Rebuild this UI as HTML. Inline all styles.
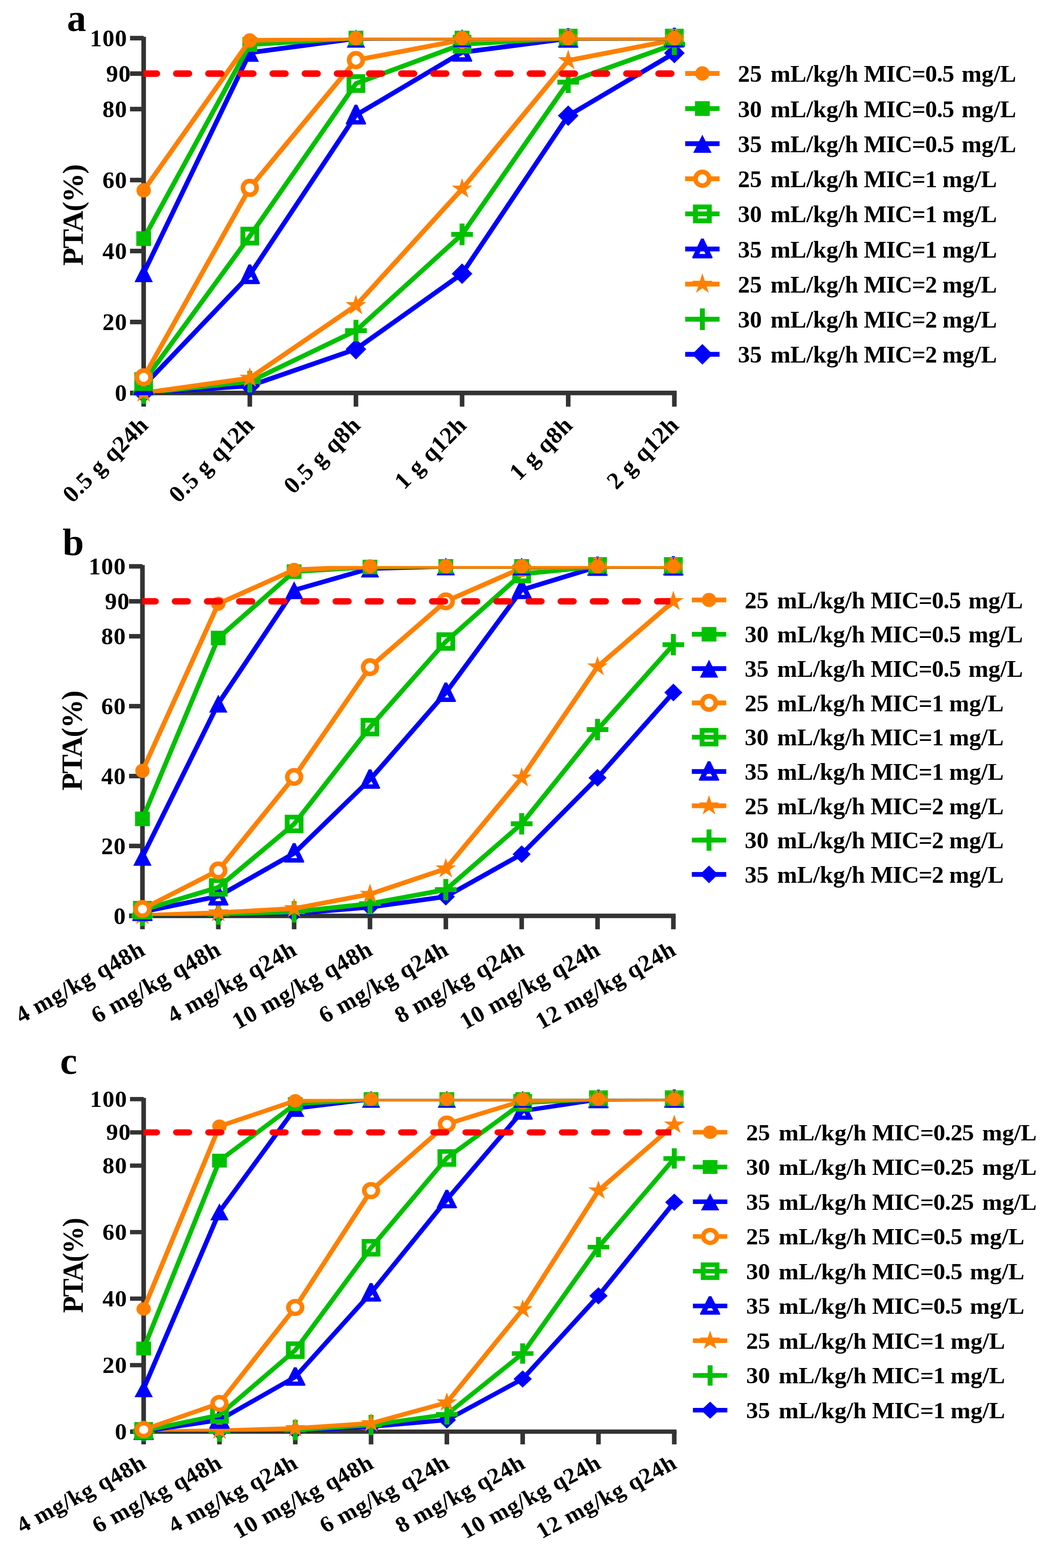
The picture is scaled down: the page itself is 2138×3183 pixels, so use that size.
<!DOCTYPE html>
<html lang="en">
<head>
<meta charset="utf-8">
<title>PTA of dosing regimens</title>
<style>
html,body{margin:0;padding:0;background:#fff;}
body{width:2138px;height:3183px;overflow:hidden;}
svg{display:block;}
svg text{font-family:'Liberation Serif', 'Times New Roman', serif;font-weight:bold;fill:#000;}
</style>
</head>
<body>

<svg width="2138" height="3183" viewBox="0 0 2138 3183">
<rect width="2138" height="3183" fill="#fff"/>
<g id="panel-a">
<text font-size="78" x="136" y="62.5">a</text>
<g transform="scale(1 1)">
<g fill="#333333">
<rect x="287.05" y="74.7" width="9.3" height="727.6"/>
<rect x="264" y="793.05" width="27.7" height="9.3"/>
<rect x="264" y="648.99" width="27.7" height="9.3"/>
<rect x="264" y="504.93" width="27.7" height="9.3"/>
<rect x="264" y="360.87" width="27.7" height="9.3"/>
<rect x="264" y="216.81" width="27.7" height="9.3"/>
<rect x="264" y="144.78" width="27.7" height="9.3"/>
<rect x="264" y="72.75" width="27.7" height="9.3"/>
<rect x="264" y="793.05" width="1109.85" height="9.3"/>
<rect x="287.05" y="797.7" width="9.3" height="27.8"/>
<rect x="502.55" y="797.7" width="9.3" height="27.8"/>
<rect x="718.05" y="797.7" width="9.3" height="27.8"/>
<rect x="933.55" y="797.7" width="9.3" height="27.8"/>
<rect x="1149.05" y="797.7" width="9.3" height="27.8"/>
<rect x="1364.55" y="797.7" width="9.3" height="27.8"/>
</g>
<g font-size="48.6" text-anchor="end" letter-spacing="1">
<text x="258.5" y="814.3">0</text>
<text x="258.5" y="670.24">20</text>
<text x="258.5" y="526.18">40</text>
<text x="258.5" y="382.12">60</text>
<text x="258.5" y="238.06">80</text>
<text x="266.1" y="166.03">90</text>
<text x="258.5" y="94">100</text>
</g>
<text font-size="59.5" letter-spacing="-1.5" text-anchor="middle" transform="translate(168 437) rotate(-90)">PTA(%)</text>
<g font-size="48.6" text-anchor="end" letter-spacing="1">
<text transform="translate(303.7 865.7) rotate(-45)">0.5 g q24h</text>
<text transform="translate(519.2 865.7) rotate(-45)">0.5 g q12h</text>
<text transform="translate(734.7 865.7) rotate(-45)">0.5 g q8h</text>
<text transform="translate(950.2 865.7) rotate(-45)">1 g q12h</text>
<text transform="translate(1165.7 865.7) rotate(-45)">1 g q8h</text>
<text transform="translate(1381.2 865.7) rotate(-45)">2 g q12h</text>
</g>
<clipPath id="clip0"><rect x="271.7" y="76.8" width="1117.5" height="720.9"/></clipPath>
<polyline clip-path="url(#clip0)" points="291.7,797.7 507.2,783.29 722.7,708.74 938.2,555.68 1153.7,234.79 1369.2,107.65" fill="none" stroke="#0000FF" stroke-width="9.6" stroke-linejoin="round"/>
<path transform="translate(291.7 797.7)" d="M0 -20.9L20.9 0L0 20.9L-20.9 0Z" fill="#0000FF"/>
<path transform="translate(507.2 783.29)" d="M0 -20.9L20.9 0L0 20.9L-20.9 0Z" fill="#0000FF"/>
<path transform="translate(722.7 708.74)" d="M0 -20.9L20.9 0L0 20.9L-20.9 0Z" fill="#0000FF"/>
<path transform="translate(938.2 555.68)" d="M0 -20.9L20.9 0L0 20.9L-20.9 0Z" fill="#0000FF"/>
<path transform="translate(1153.7 234.79)" d="M0 -20.9L20.9 0L0 20.9L-20.9 0Z" fill="#0000FF"/>
<path transform="translate(1369.2 107.65)" d="M0 -20.9L20.9 0L0 20.9L-20.9 0Z" fill="#0000FF"/>
<polyline clip-path="url(#clip0)" points="291.7,797.7 507.2,774.65 722.7,671.29 938.2,475.73 1153.7,166.72 1369.2,89.65" fill="none" stroke="#00C000" stroke-width="9.6" stroke-linejoin="round"/>
<path transform="translate(291.7 797.7)" d="M-5 -22H5V-5H22V5H5V22H-5V5H-22V-5H-5Z" fill="#00C000"/>
<path transform="translate(507.2 774.65)" d="M-5 -22H5V-5H22V5H5V22H-5V5H-22V-5H-5Z" fill="#00C000"/>
<path transform="translate(722.7 671.29)" d="M-5 -22H5V-5H22V5H5V22H-5V5H-22V-5H-5Z" fill="#00C000"/>
<path transform="translate(938.2 475.73)" d="M-5 -22H5V-5H22V5H5V22H-5V5H-22V-5H-5Z" fill="#00C000"/>
<path transform="translate(1153.7 166.72)" d="M-5 -22H5V-5H22V5H5V22H-5V5H-22V-5H-5Z" fill="#00C000"/>
<path transform="translate(1369.2 89.65)" d="M-5 -22H5V-5H22V5H5V22H-5V5H-22V-5H-5Z" fill="#00C000"/>
<polyline clip-path="url(#clip0)" points="291.7,797.7 507.2,767.45 722.7,620.15 938.2,383.53 1153.7,122.78 1369.2,81" fill="none" stroke="#FF8000" stroke-width="9.6" stroke-linejoin="round"/>
<path transform="translate(291.7 797.7)" d="M0 -22L4.94 -6.8L20.92 -6.8L7.99 2.6L12.93 17.8L0 8.4L-12.93 17.8L-7.99 2.6L-20.92 -6.8L-4.94 -6.8Z" fill="#FF8000"/>
<path transform="translate(507.2 767.45)" d="M0 -22L4.94 -6.8L20.92 -6.8L7.99 2.6L12.93 17.8L0 8.4L-12.93 17.8L-7.99 2.6L-20.92 -6.8L-4.94 -6.8Z" fill="#FF8000"/>
<path transform="translate(722.7 620.15)" d="M0 -22L4.94 -6.8L20.92 -6.8L7.99 2.6L12.93 17.8L0 8.4L-12.93 17.8L-7.99 2.6L-20.92 -6.8L-4.94 -6.8Z" fill="#FF8000"/>
<path transform="translate(938.2 383.53)" d="M0 -22L4.94 -6.8L20.92 -6.8L7.99 2.6L12.93 17.8L0 8.4L-12.93 17.8L-7.99 2.6L-20.92 -6.8L-4.94 -6.8Z" fill="#FF8000"/>
<path transform="translate(1153.7 122.78)" d="M0 -22L4.94 -6.8L20.92 -6.8L7.99 2.6L12.93 17.8L0 8.4L-12.93 17.8L-7.99 2.6L-20.92 -6.8L-4.94 -6.8Z" fill="#FF8000"/>
<path transform="translate(1369.2 81)" d="M0 -22L4.94 -6.8L20.92 -6.8L7.99 2.6L12.93 17.8L0 8.4L-12.93 17.8L-7.99 2.6L-20.92 -6.8L-4.94 -6.8Z" fill="#FF8000"/>
<polyline clip-path="url(#clip0)" points="291.7,783.29 507.2,557.84 722.7,233.71 938.2,106.21 1153.7,78.12 1369.2,77.4" fill="none" stroke="#0000FF" stroke-width="9.6" stroke-linejoin="round"/>
<path transform="translate(291.7 783.29)" fill-rule="evenodd" d="M-2.6 -21.1H2.6L20.8 17.2L19.6 19H-19.6L-20.8 17.2ZM0 -2.9L6.3 10H-6.3Z" fill="#0000FF"/>
<path transform="translate(507.2 557.84)" fill-rule="evenodd" d="M-2.6 -21.1H2.6L20.8 17.2L19.6 19H-19.6L-20.8 17.2ZM0 -2.9L6.3 10H-6.3Z" fill="#0000FF"/>
<path transform="translate(722.7 233.71)" fill-rule="evenodd" d="M-2.6 -21.1H2.6L20.8 17.2L19.6 19H-19.6L-20.8 17.2ZM0 -2.9L6.3 10H-6.3Z" fill="#0000FF"/>
<path transform="translate(938.2 106.21)" fill-rule="evenodd" d="M-2.6 -21.1H2.6L20.8 17.2L19.6 19H-19.6L-20.8 17.2ZM0 -2.9L6.3 10H-6.3Z" fill="#0000FF"/>
<path transform="translate(1153.7 78.12)" fill-rule="evenodd" d="M-2.6 -21.1H2.6L20.8 17.2L19.6 19H-19.6L-20.8 17.2ZM0 -2.9L6.3 10H-6.3Z" fill="#0000FF"/>
<path transform="translate(1369.2 77.4)" fill-rule="evenodd" d="M-2.6 -21.1H2.6L20.8 17.2L19.6 19H-19.6L-20.8 17.2ZM0 -2.9L6.3 10H-6.3Z" fill="#0000FF"/>
<polyline clip-path="url(#clip0)" points="291.7,774.65 507.2,479.33 722.7,169.6 938.2,89.65 1153.7,77.4 1369.2,77.4" fill="none" stroke="#00C000" stroke-width="9.6" stroke-linejoin="round"/>
<rect x="277.6" y="760.55" width="28.2" height="28.2" fill="none" stroke="#00C000" stroke-width="9.8"/>
<rect x="493.1" y="465.23" width="28.2" height="28.2" fill="none" stroke="#00C000" stroke-width="9.8"/>
<rect x="708.6" y="155.5" width="28.2" height="28.2" fill="none" stroke="#00C000" stroke-width="9.8"/>
<rect x="924.1" y="75.55" width="28.2" height="28.2" fill="none" stroke="#00C000" stroke-width="9.8"/>
<rect x="1139.6" y="63.3" width="28.2" height="28.2" fill="none" stroke="#00C000" stroke-width="9.8"/>
<rect x="1355.1" y="63.3" width="28.2" height="28.2" fill="none" stroke="#00C000" stroke-width="9.8"/>
<polyline clip-path="url(#clip0)" points="291.7,766.01 507.2,381.37 722.7,122.06 938.2,81 1153.7,77.4 1369.2,77.4" fill="none" stroke="#FF8000" stroke-width="9.6" stroke-linejoin="round"/>
<circle cx="291.7" cy="766.01" r="13.9" fill="#fff" stroke="#FF8000" stroke-width="9.3"/>
<circle cx="507.2" cy="381.37" r="13.9" fill="#fff" stroke="#FF8000" stroke-width="9.3"/>
<circle cx="722.7" cy="122.06" r="13.9" fill="#fff" stroke="#FF8000" stroke-width="9.3"/>
<circle cx="938.2" cy="81" r="13.9" fill="#fff" stroke="#FF8000" stroke-width="9.3"/>
<circle cx="1153.7" cy="77.4" r="13.9" fill="#fff" stroke="#FF8000" stroke-width="9.3"/>
<circle cx="1369.2" cy="77.4" r="13.9" fill="#fff" stroke="#FF8000" stroke-width="9.3"/>
<polyline clip-path="url(#clip0)" points="291.7,554.24 507.2,106.93 722.7,78.12 938.2,77.4 1153.7,77.4 1369.2,77.4" fill="none" stroke="#0000FF" stroke-width="9.6" stroke-linejoin="round"/>
<path transform="translate(291.7 554.24)" d="M0 -18.2L18.6 18.6H-18.6Z" fill="#0000FF"/>
<path transform="translate(507.2 106.93)" d="M0 -18.2L18.6 18.6H-18.6Z" fill="#0000FF"/>
<path transform="translate(722.7 78.12)" d="M0 -18.2L18.6 18.6H-18.6Z" fill="#0000FF"/>
<path transform="translate(938.2 77.4)" d="M0 -18.2L18.6 18.6H-18.6Z" fill="#0000FF"/>
<path transform="translate(1153.7 77.4)" d="M0 -18.2L18.6 18.6H-18.6Z" fill="#0000FF"/>
<path transform="translate(1369.2 77.4)" d="M0 -18.2L18.6 18.6H-18.6Z" fill="#0000FF"/>
<polyline clip-path="url(#clip0)" points="291.7,484.37 507.2,90.37 722.7,77.4 938.2,77.4 1153.7,77.4 1369.2,77.4" fill="none" stroke="#00C000" stroke-width="9.6" stroke-linejoin="round"/>
<rect x="276.7" y="469.37" width="30" height="30" fill="#00C000"/>
<rect x="492.2" y="75.37" width="30" height="30" fill="#00C000"/>
<rect x="707.7" y="62.4" width="30" height="30" fill="#00C000"/>
<rect x="923.2" y="62.4" width="30" height="30" fill="#00C000"/>
<rect x="1138.7" y="62.4" width="30" height="30" fill="#00C000"/>
<rect x="1354.2" y="62.4" width="30" height="30" fill="#00C000"/>
<polyline clip-path="url(#clip0)" points="291.7,386.41 507.2,82.08 722.7,77.4 938.2,77.4 1153.7,77.4 1369.2,77.4" fill="none" stroke="#FF8000" stroke-width="9.6" stroke-linejoin="round"/>
<circle cx="291.7" cy="386.41" r="14.6" fill="#FF8000"/>
<circle cx="507.2" cy="82.08" r="14.6" fill="#FF8000"/>
<circle cx="722.7" cy="77.4" r="14.6" fill="#FF8000"/>
<circle cx="938.2" cy="77.4" r="14.6" fill="#FF8000"/>
<circle cx="1153.7" cy="77.4" r="14.6" fill="#FF8000"/>
<circle cx="1369.2" cy="77.4" r="14.6" fill="#FF8000"/>
<clipPath id="rclip0"><rect x="291.3" y="139.43" width="1083.7" height="20"/></clipPath>
<g fill="#FF0000" clip-path="url(#rclip0)">
<rect x="290.7" y="142.83" width="27.72" height="13.2"/>
<circle cx="318.42" cy="149.43" r="6.6"/>
<rect x="351.3" y="142.83" width="39" height="13.2" rx="6.6"/>
<rect x="416.58" y="142.83" width="39" height="13.2" rx="6.6"/>
<rect x="481.86" y="142.83" width="39" height="13.2" rx="6.6"/>
<rect x="547.14" y="142.83" width="39" height="13.2" rx="6.6"/>
<rect x="612.42" y="142.83" width="39" height="13.2" rx="6.6"/>
<rect x="677.7" y="142.83" width="39" height="13.2" rx="6.6"/>
<rect x="742.98" y="142.83" width="39" height="13.2" rx="6.6"/>
<rect x="808.26" y="142.83" width="39" height="13.2" rx="6.6"/>
<rect x="873.54" y="142.83" width="39" height="13.2" rx="6.6"/>
<rect x="938.82" y="142.83" width="39" height="13.2" rx="6.6"/>
<rect x="1004.1" y="142.83" width="39" height="13.2" rx="6.6"/>
<rect x="1069.38" y="142.83" width="39" height="13.2" rx="6.6"/>
<rect x="1134.66" y="142.83" width="39" height="13.2" rx="6.6"/>
<rect x="1199.94" y="142.83" width="39" height="13.2" rx="6.6"/>
<rect x="1265.22" y="142.83" width="39" height="13.2" rx="6.6"/>
<rect x="1330.5" y="142.83" width="39" height="13.2" rx="6.6"/>
</g>
<g font-size="48.6">
<rect x="1391.2" y="144.2" width="69.8" height="9.8" fill="#FF8000"/>
<circle cx="1426.1" cy="149.1" r="14.6" fill="#FF8000"/>
<text y="166.3"><tspan x="1498.3">25</tspan> <tspan x="1564.4">mL/kg/h</tspan> <tspan x="1754.1" letter-spacing="-0.8">MIC=0.5</tspan> <tspan x="1952.6" letter-spacing="0">mg/L</tspan></text>
<rect x="1391.2" y="215.47" width="69.8" height="9.8" fill="#00C000"/>
<rect x="1411.1" y="205.37" width="30" height="30" fill="#00C000"/>
<text y="237.57"><tspan x="1498.3">30</tspan> <tspan x="1564.4">mL/kg/h</tspan> <tspan x="1754.1" letter-spacing="-0.8">MIC=0.5</tspan> <tspan x="1952.6" letter-spacing="0">mg/L</tspan></text>
<rect x="1391.2" y="286.74" width="69.8" height="9.8" fill="#0000FF"/>
<path transform="translate(1426.1 291.64)" d="M0 -18.2L18.6 18.6H-18.6Z" fill="#0000FF"/>
<text y="308.84"><tspan x="1498.3">35</tspan> <tspan x="1564.4">mL/kg/h</tspan> <tspan x="1754.1" letter-spacing="-0.8">MIC=0.5</tspan> <tspan x="1952.6" letter-spacing="0">mg/L</tspan></text>
<rect x="1391.2" y="358.01" width="69.8" height="9.8" fill="#FF8000"/>
<circle cx="1426.1" cy="362.91" r="13.9" fill="#fff" stroke="#FF8000" stroke-width="9.3"/>
<text y="380.11"><tspan x="1498.3">25</tspan> <tspan x="1564.4">mL/kg/h</tspan> <tspan x="1754.1" letter-spacing="-0.8">MIC=1</tspan> <tspan x="1913.5" letter-spacing="0">mg/L</tspan></text>
<rect x="1391.2" y="429.28" width="69.8" height="9.8" fill="#00C000"/>
<rect x="1412" y="420.08" width="28.2" height="28.2" fill="none" stroke="#00C000" stroke-width="9.8"/>
<text y="451.38"><tspan x="1498.3">30</tspan> <tspan x="1564.4">mL/kg/h</tspan> <tspan x="1754.1" letter-spacing="-0.8">MIC=1</tspan> <tspan x="1913.5" letter-spacing="0">mg/L</tspan></text>
<rect x="1391.2" y="500.55" width="69.8" height="9.8" fill="#0000FF"/>
<path transform="translate(1426.1 505.45)" fill-rule="evenodd" d="M-2.6 -21.1H2.6L20.8 17.2L19.6 19H-19.6L-20.8 17.2ZM0 -2.9L6.3 10H-6.3Z" fill="#0000FF"/>
<text y="522.65"><tspan x="1498.3">35</tspan> <tspan x="1564.4">mL/kg/h</tspan> <tspan x="1754.1" letter-spacing="-0.8">MIC=1</tspan> <tspan x="1913.5" letter-spacing="0">mg/L</tspan></text>
<rect x="1391.2" y="571.82" width="69.8" height="9.8" fill="#FF8000"/>
<path transform="translate(1426.1 576.72)" d="M0 -22L4.94 -6.8L20.92 -6.8L7.99 2.6L12.93 17.8L0 8.4L-12.93 17.8L-7.99 2.6L-20.92 -6.8L-4.94 -6.8Z" fill="#FF8000"/>
<text y="593.92"><tspan x="1498.3">25</tspan> <tspan x="1564.4">mL/kg/h</tspan> <tspan x="1754.1" letter-spacing="-0.8">MIC=2</tspan> <tspan x="1913.5" letter-spacing="0">mg/L</tspan></text>
<rect x="1391.2" y="643.09" width="69.8" height="9.8" fill="#00C000"/>
<path transform="translate(1426.1 647.99)" d="M-5 -22H5V-5H22V5H5V22H-5V5H-22V-5H-5Z" fill="#00C000"/>
<text y="665.19"><tspan x="1498.3">30</tspan> <tspan x="1564.4">mL/kg/h</tspan> <tspan x="1754.1" letter-spacing="-0.8">MIC=2</tspan> <tspan x="1913.5" letter-spacing="0">mg/L</tspan></text>
<rect x="1391.2" y="714.36" width="69.8" height="9.8" fill="#0000FF"/>
<path transform="translate(1426.1 719.26)" d="M0 -20.9L20.9 0L0 20.9L-20.9 0Z" fill="#0000FF"/>
<text y="736.46"><tspan x="1498.3">35</tspan> <tspan x="1564.4">mL/kg/h</tspan> <tspan x="1754.1" letter-spacing="-0.8">MIC=2</tspan> <tspan x="1913.5" letter-spacing="0">mg/L</tspan></text>
</g>
</g>
</g>
<g id="panel-b">
<text font-size="78" x="127" y="1126.5">b</text>
<g transform="scale(1 0.985)">
<g fill="#333333">
<rect x="284.55" y="1164.51" width="9.3" height="727.6"/>
<rect x="262" y="1882.86" width="27.2" height="9.3"/>
<rect x="262" y="1738.8" width="27.2" height="9.3"/>
<rect x="262" y="1594.74" width="27.2" height="9.3"/>
<rect x="262" y="1450.68" width="27.2" height="9.3"/>
<rect x="262" y="1306.62" width="27.2" height="9.3"/>
<rect x="262" y="1234.59" width="27.2" height="9.3"/>
<rect x="262" y="1162.56" width="27.2" height="9.3"/>
<rect x="262" y="1882.86" width="1109.85" height="9.3"/>
<rect x="284.55" y="1887.51" width="9.3" height="27.6"/>
<rect x="438.55" y="1887.51" width="9.3" height="27.6"/>
<rect x="592.55" y="1887.51" width="9.3" height="27.6"/>
<rect x="746.55" y="1887.51" width="9.3" height="27.6"/>
<rect x="900.55" y="1887.51" width="9.3" height="27.6"/>
<rect x="1054.55" y="1887.51" width="9.3" height="27.6"/>
<rect x="1208.55" y="1887.51" width="9.3" height="27.6"/>
<rect x="1362.55" y="1887.51" width="9.3" height="27.6"/>
</g>
<g font-size="48.6" text-anchor="end" letter-spacing="1">
<text x="256" y="1904.11">0</text>
<text x="256" y="1760.05">20</text>
<text x="256" y="1615.99">40</text>
<text x="256" y="1471.93">60</text>
<text x="256" y="1327.87">80</text>
<text x="263.6" y="1255.84">90</text>
<text x="256" y="1183.81">100</text>
</g>
<text font-size="59.5" letter-spacing="-1.5" text-anchor="middle" transform="translate(166 1526.9) rotate(-90)">PTA(%)</text>
<g font-size="48.6" text-anchor="end" letter-spacing="1">
<text transform="translate(297.9 1965.81) rotate(-29.5)">4 mg/kg q48h</text>
<text transform="translate(451.9 1965.81) rotate(-29.5)">6 mg/kg q48h</text>
<text transform="translate(605.9 1965.81) rotate(-29.5)">4 mg/kg q24h</text>
<text transform="translate(759.9 1965.81) rotate(-29.5)">10 mg/kg q48h</text>
<text transform="translate(913.9 1965.81) rotate(-29.5)">6 mg/kg q24h</text>
<text transform="translate(1067.9 1965.81) rotate(-29.5)">8 mg/kg q24h</text>
<text transform="translate(1221.9 1965.81) rotate(-29.5)">10 mg/kg q24h</text>
<text transform="translate(1375.9 1965.81) rotate(-29.5)">12 mg/kg q24h</text>
</g>
<clipPath id="clip1"><rect x="269.2" y="1166.61" width="1118" height="720.9"/></clipPath>
<polyline clip-path="url(#clip1)" points="289.2,1887.51 443.2,1885.35 597.2,1882.47 751.2,1869.51 905.2,1847.9 1059.2,1760.38 1213.2,1602.99 1367.2,1427.24" fill="none" stroke="#0000FF" stroke-width="9.6" stroke-linejoin="round"/>
<path transform="translate(289.2 1887.51)" d="M0 -18.3L18.3 0L0 18.3L-18.3 0Z" fill="#0000FF"/>
<path transform="translate(443.2 1885.35)" d="M0 -18.3L18.3 0L0 18.3L-18.3 0Z" fill="#0000FF"/>
<path transform="translate(597.2 1882.47)" d="M0 -18.3L18.3 0L0 18.3L-18.3 0Z" fill="#0000FF"/>
<path transform="translate(751.2 1869.51)" d="M0 -18.3L18.3 0L0 18.3L-18.3 0Z" fill="#0000FF"/>
<path transform="translate(905.2 1847.9)" d="M0 -18.3L18.3 0L0 18.3L-18.3 0Z" fill="#0000FF"/>
<path transform="translate(1059.2 1760.38)" d="M0 -18.3L18.3 0L0 18.3L-18.3 0Z" fill="#0000FF"/>
<path transform="translate(1213.2 1602.99)" d="M0 -18.3L18.3 0L0 18.3L-18.3 0Z" fill="#0000FF"/>
<path transform="translate(1367.2 1427.24)" d="M0 -18.3L18.3 0L0 18.3L-18.3 0Z" fill="#0000FF"/>
<polyline clip-path="url(#clip1)" points="289.2,1886.65 443.2,1883.91 597.2,1879.23 751.2,1862.3 905.2,1833.49 1059.2,1697.71 1213.2,1503.59 1367.2,1328.56" fill="none" stroke="#00C000" stroke-width="9.6" stroke-linejoin="round"/>
<path transform="translate(289.2 1886.65)" d="M-5 -22H5V-5H22V5H5V22H-5V5H-22V-5H-5Z" fill="#00C000"/>
<path transform="translate(443.2 1883.91)" d="M-5 -22H5V-5H22V5H5V22H-5V5H-22V-5H-5Z" fill="#00C000"/>
<path transform="translate(597.2 1879.23)" d="M-5 -22H5V-5H22V5H5V22H-5V5H-22V-5H-5Z" fill="#00C000"/>
<path transform="translate(751.2 1862.3)" d="M-5 -22H5V-5H22V5H5V22H-5V5H-22V-5H-5Z" fill="#00C000"/>
<path transform="translate(905.2 1833.49)" d="M-5 -22H5V-5H22V5H5V22H-5V5H-22V-5H-5Z" fill="#00C000"/>
<path transform="translate(1059.2 1697.71)" d="M-5 -22H5V-5H22V5H5V22H-5V5H-22V-5H-5Z" fill="#00C000"/>
<path transform="translate(1213.2 1503.59)" d="M-5 -22H5V-5H22V5H5V22H-5V5H-22V-5H-5Z" fill="#00C000"/>
<path transform="translate(1367.2 1328.56)" d="M-5 -22H5V-5H22V5H5V22H-5V5H-22V-5H-5Z" fill="#00C000"/>
<polyline clip-path="url(#clip1)" points="289.2,1886.79 443.2,1881.03 597.2,1872.39 751.2,1842.85 905.2,1790.27 1059.2,1602.99 1213.2,1373.94 1367.2,1239.24" fill="none" stroke="#FF8000" stroke-width="9.6" stroke-linejoin="round"/>
<path transform="translate(289.2 1886.79)" d="M0 -22L4.94 -6.8L20.92 -6.8L7.99 2.6L12.93 17.8L0 8.4L-12.93 17.8L-7.99 2.6L-20.92 -6.8L-4.94 -6.8Z" fill="#FF8000"/>
<path transform="translate(443.2 1881.03)" d="M0 -22L4.94 -6.8L20.92 -6.8L7.99 2.6L12.93 17.8L0 8.4L-12.93 17.8L-7.99 2.6L-20.92 -6.8L-4.94 -6.8Z" fill="#FF8000"/>
<path transform="translate(597.2 1872.39)" d="M0 -22L4.94 -6.8L20.92 -6.8L7.99 2.6L12.93 17.8L0 8.4L-12.93 17.8L-7.99 2.6L-20.92 -6.8L-4.94 -6.8Z" fill="#FF8000"/>
<path transform="translate(751.2 1842.85)" d="M0 -22L4.94 -6.8L20.92 -6.8L7.99 2.6L12.93 17.8L0 8.4L-12.93 17.8L-7.99 2.6L-20.92 -6.8L-4.94 -6.8Z" fill="#FF8000"/>
<path transform="translate(905.2 1790.27)" d="M0 -22L4.94 -6.8L20.92 -6.8L7.99 2.6L12.93 17.8L0 8.4L-12.93 17.8L-7.99 2.6L-20.92 -6.8L-4.94 -6.8Z" fill="#FF8000"/>
<path transform="translate(1059.2 1602.99)" d="M0 -22L4.94 -6.8L20.92 -6.8L7.99 2.6L12.93 17.8L0 8.4L-12.93 17.8L-7.99 2.6L-20.92 -6.8L-4.94 -6.8Z" fill="#FF8000"/>
<path transform="translate(1213.2 1373.94)" d="M0 -22L4.94 -6.8L20.92 -6.8L7.99 2.6L12.93 17.8L0 8.4L-12.93 17.8L-7.99 2.6L-20.92 -6.8L-4.94 -6.8Z" fill="#FF8000"/>
<path transform="translate(1367.2 1239.24)" d="M0 -22L4.94 -6.8L20.92 -6.8L7.99 2.6L12.93 17.8L0 8.4L-12.93 17.8L-7.99 2.6L-20.92 -6.8L-4.94 -6.8Z" fill="#FF8000"/>
<polyline clip-path="url(#clip1)" points="289.2,1879.23 443.2,1847.18 597.2,1758.58 751.2,1606.59 905.2,1427.6 1059.2,1215.83 1213.2,1167.93 1367.2,1167.21" fill="none" stroke="#0000FF" stroke-width="9.6" stroke-linejoin="round"/>
<path transform="translate(289.2 1879.23)" fill-rule="evenodd" d="M-2.6 -21.1H2.6L20.8 17.2L19.6 19H-19.6L-20.8 17.2ZM0 -2.9L6.3 10H-6.3Z" fill="#0000FF"/>
<path transform="translate(443.2 1847.18)" fill-rule="evenodd" d="M-2.6 -21.1H2.6L20.8 17.2L19.6 19H-19.6L-20.8 17.2ZM0 -2.9L6.3 10H-6.3Z" fill="#0000FF"/>
<path transform="translate(597.2 1758.58)" fill-rule="evenodd" d="M-2.6 -21.1H2.6L20.8 17.2L19.6 19H-19.6L-20.8 17.2ZM0 -2.9L6.3 10H-6.3Z" fill="#0000FF"/>
<path transform="translate(751.2 1606.59)" fill-rule="evenodd" d="M-2.6 -21.1H2.6L20.8 17.2L19.6 19H-19.6L-20.8 17.2ZM0 -2.9L6.3 10H-6.3Z" fill="#0000FF"/>
<path transform="translate(905.2 1427.6)" fill-rule="evenodd" d="M-2.6 -21.1H2.6L20.8 17.2L19.6 19H-19.6L-20.8 17.2ZM0 -2.9L6.3 10H-6.3Z" fill="#0000FF"/>
<path transform="translate(1059.2 1215.83)" fill-rule="evenodd" d="M-2.6 -21.1H2.6L20.8 17.2L19.6 19H-19.6L-20.8 17.2ZM0 -2.9L6.3 10H-6.3Z" fill="#0000FF"/>
<path transform="translate(1213.2 1167.93)" fill-rule="evenodd" d="M-2.6 -21.1H2.6L20.8 17.2L19.6 19H-19.6L-20.8 17.2ZM0 -2.9L6.3 10H-6.3Z" fill="#0000FF"/>
<path transform="translate(1367.2 1167.21)" fill-rule="evenodd" d="M-2.6 -21.1H2.6L20.8 17.2L19.6 19H-19.6L-20.8 17.2ZM0 -2.9L6.3 10H-6.3Z" fill="#0000FF"/>
<polyline clip-path="url(#clip1)" points="289.2,1875.63 443.2,1828.81 597.2,1698.07 751.2,1498.55 905.2,1322.07 1059.2,1183.05 1213.2,1167.21 1367.2,1167.21" fill="none" stroke="#00C000" stroke-width="9.6" stroke-linejoin="round"/>
<rect x="275.1" y="1861.53" width="28.2" height="28.2" fill="none" stroke="#00C000" stroke-width="9.8"/>
<rect x="429.1" y="1814.71" width="28.2" height="28.2" fill="none" stroke="#00C000" stroke-width="9.8"/>
<rect x="583.1" y="1683.97" width="28.2" height="28.2" fill="none" stroke="#00C000" stroke-width="9.8"/>
<rect x="737.1" y="1484.45" width="28.2" height="28.2" fill="none" stroke="#00C000" stroke-width="9.8"/>
<rect x="891.1" y="1307.97" width="28.2" height="28.2" fill="none" stroke="#00C000" stroke-width="9.8"/>
<rect x="1045.1" y="1168.95" width="28.2" height="28.2" fill="none" stroke="#00C000" stroke-width="9.8"/>
<rect x="1199.1" y="1153.11" width="28.2" height="28.2" fill="none" stroke="#00C000" stroke-width="9.8"/>
<rect x="1353.1" y="1153.11" width="28.2" height="28.2" fill="none" stroke="#00C000" stroke-width="9.8"/>
<polyline clip-path="url(#clip1)" points="289.2,1873.47 443.2,1793.87 597.2,1601.19 751.2,1375.02 905.2,1239.24 1059.2,1170.81 1213.2,1167.21 1367.2,1167.21" fill="none" stroke="#FF8000" stroke-width="9.6" stroke-linejoin="round"/>
<circle cx="289.2" cy="1873.47" r="13.9" fill="#fff" stroke="#FF8000" stroke-width="9.3"/>
<circle cx="443.2" cy="1793.87" r="13.9" fill="#fff" stroke="#FF8000" stroke-width="9.3"/>
<circle cx="597.2" cy="1601.19" r="13.9" fill="#fff" stroke="#FF8000" stroke-width="9.3"/>
<circle cx="751.2" cy="1375.02" r="13.9" fill="#fff" stroke="#FF8000" stroke-width="9.3"/>
<circle cx="905.2" cy="1239.24" r="13.9" fill="#fff" stroke="#FF8000" stroke-width="9.3"/>
<circle cx="1059.2" cy="1170.81" r="13.9" fill="#fff" stroke="#FF8000" stroke-width="9.3"/>
<circle cx="1213.2" cy="1167.21" r="13.9" fill="#fff" stroke="#FF8000" stroke-width="9.3"/>
<circle cx="1367.2" cy="1167.21" r="13.9" fill="#fff" stroke="#FF8000" stroke-width="9.3"/>
<polyline clip-path="url(#clip1)" points="289.2,1765.78 443.2,1449.93 597.2,1216.19 751.2,1171.53 905.2,1167.21 1059.2,1167.21 1213.2,1167.21 1367.2,1167.21" fill="none" stroke="#0000FF" stroke-width="9.6" stroke-linejoin="round"/>
<path transform="translate(289.2 1765.78)" d="M0 -18.2L18.6 18.6H-18.6Z" fill="#0000FF"/>
<path transform="translate(443.2 1449.93)" d="M0 -18.2L18.6 18.6H-18.6Z" fill="#0000FF"/>
<path transform="translate(597.2 1216.19)" d="M0 -18.2L18.6 18.6H-18.6Z" fill="#0000FF"/>
<path transform="translate(751.2 1171.53)" d="M0 -18.2L18.6 18.6H-18.6Z" fill="#0000FF"/>
<path transform="translate(905.2 1167.21)" d="M0 -18.2L18.6 18.6H-18.6Z" fill="#0000FF"/>
<path transform="translate(1059.2 1167.21)" d="M0 -18.2L18.6 18.6H-18.6Z" fill="#0000FF"/>
<path transform="translate(1213.2 1167.21)" d="M0 -18.2L18.6 18.6H-18.6Z" fill="#0000FF"/>
<path transform="translate(1367.2 1167.21)" d="M0 -18.2L18.6 18.6H-18.6Z" fill="#0000FF"/>
<polyline clip-path="url(#clip1)" points="289.2,1687.63 443.2,1314.87 597.2,1178.01 751.2,1168.65 905.2,1167.21 1059.2,1167.21 1213.2,1167.21 1367.2,1167.21" fill="none" stroke="#00C000" stroke-width="9.6" stroke-linejoin="round"/>
<rect x="274.2" y="1672.63" width="30" height="30" fill="#00C000"/>
<rect x="428.2" y="1299.87" width="30" height="30" fill="#00C000"/>
<rect x="582.2" y="1163.01" width="30" height="30" fill="#00C000"/>
<rect x="736.2" y="1153.65" width="30" height="30" fill="#00C000"/>
<rect x="890.2" y="1152.21" width="30" height="30" fill="#00C000"/>
<rect x="1044.2" y="1152.21" width="30" height="30" fill="#00C000"/>
<rect x="1198.2" y="1152.21" width="30" height="30" fill="#00C000"/>
<rect x="1352.2" y="1152.21" width="30" height="30" fill="#00C000"/>
<polyline clip-path="url(#clip1)" points="289.2,1588.59 443.2,1244.28 597.2,1174.41 751.2,1167.21 905.2,1167.21 1059.2,1167.21 1213.2,1167.21 1367.2,1167.21" fill="none" stroke="#FF8000" stroke-width="9.6" stroke-linejoin="round"/>
<circle cx="289.2" cy="1588.59" r="14.6" fill="#FF8000"/>
<circle cx="443.2" cy="1244.28" r="14.6" fill="#FF8000"/>
<circle cx="597.2" cy="1174.41" r="14.6" fill="#FF8000"/>
<circle cx="751.2" cy="1167.21" r="14.6" fill="#FF8000"/>
<circle cx="905.2" cy="1167.21" r="14.6" fill="#FF8000"/>
<circle cx="1059.2" cy="1167.21" r="14.6" fill="#FF8000"/>
<circle cx="1213.2" cy="1167.21" r="14.6" fill="#FF8000"/>
<circle cx="1367.2" cy="1167.21" r="14.6" fill="#FF8000"/>
<clipPath id="rclip1"><rect x="288.8" y="1229.24" width="1072.2" height="20"/></clipPath>
<g fill="#FF0000" clip-path="url(#rclip1)">
<rect x="288.2" y="1232.64" width="27.62" height="13.2"/>
<circle cx="315.82" cy="1239.24" r="6.6"/>
<rect x="348.7" y="1232.64" width="39" height="13.2" rx="6.6"/>
<rect x="413.98" y="1232.64" width="39" height="13.2" rx="6.6"/>
<rect x="479.26" y="1232.64" width="39" height="13.2" rx="6.6"/>
<rect x="544.54" y="1232.64" width="39" height="13.2" rx="6.6"/>
<rect x="609.82" y="1232.64" width="39" height="13.2" rx="6.6"/>
<rect x="675.1" y="1232.64" width="39" height="13.2" rx="6.6"/>
<rect x="740.38" y="1232.64" width="39" height="13.2" rx="6.6"/>
<rect x="805.66" y="1232.64" width="39" height="13.2" rx="6.6"/>
<rect x="870.94" y="1232.64" width="39" height="13.2" rx="6.6"/>
<rect x="936.22" y="1232.64" width="39" height="13.2" rx="6.6"/>
<rect x="1001.5" y="1232.64" width="39" height="13.2" rx="6.6"/>
<rect x="1066.78" y="1232.64" width="39" height="13.2" rx="6.6"/>
<rect x="1132.06" y="1232.64" width="39" height="13.2" rx="6.6"/>
<rect x="1197.34" y="1232.64" width="39" height="13.2" rx="6.6"/>
<rect x="1262.62" y="1232.64" width="39" height="13.2" rx="6.6"/>
<rect x="1334.5" y="1232.64" width="39" height="13.2"/>
<circle cx="1334.5" cy="1239.24" r="6.6"/>
</g>
<g font-size="48.6">
<rect x="1404.7" y="1231.55" width="69.8" height="9.8" fill="#FF8000"/>
<circle cx="1439.6" cy="1236.45" r="14.6" fill="#FF8000"/>
<text y="1253.65"><tspan x="1512">25</tspan> <tspan x="1578.1">mL/kg/h</tspan> <tspan x="1767.8" letter-spacing="-0.8">MIC=0.5</tspan> <tspan x="1966.3" letter-spacing="0">mg/L</tspan></text>
<rect x="1404.7" y="1302.25" width="69.8" height="9.8" fill="#00C000"/>
<rect x="1424.6" y="1292.15" width="30" height="30" fill="#00C000"/>
<text y="1324.35"><tspan x="1512">30</tspan> <tspan x="1578.1">mL/kg/h</tspan> <tspan x="1767.8" letter-spacing="-0.8">MIC=0.5</tspan> <tspan x="1966.3" letter-spacing="0">mg/L</tspan></text>
<rect x="1404.7" y="1372.95" width="69.8" height="9.8" fill="#0000FF"/>
<path transform="translate(1439.6 1377.85)" d="M0 -18.2L18.6 18.6H-18.6Z" fill="#0000FF"/>
<text y="1395.05"><tspan x="1512">35</tspan> <tspan x="1578.1">mL/kg/h</tspan> <tspan x="1767.8" letter-spacing="-0.8">MIC=0.5</tspan> <tspan x="1966.3" letter-spacing="0">mg/L</tspan></text>
<rect x="1404.7" y="1443.65" width="69.8" height="9.8" fill="#FF8000"/>
<circle cx="1439.6" cy="1448.55" r="13.9" fill="#fff" stroke="#FF8000" stroke-width="9.3"/>
<text y="1465.75"><tspan x="1512">25</tspan> <tspan x="1578.1">mL/kg/h</tspan> <tspan x="1767.8" letter-spacing="-0.8">MIC=1</tspan> <tspan x="1927.2" letter-spacing="0">mg/L</tspan></text>
<rect x="1404.7" y="1514.35" width="69.8" height="9.8" fill="#00C000"/>
<rect x="1425.5" y="1505.15" width="28.2" height="28.2" fill="none" stroke="#00C000" stroke-width="9.8"/>
<text y="1536.45"><tspan x="1512">30</tspan> <tspan x="1578.1">mL/kg/h</tspan> <tspan x="1767.8" letter-spacing="-0.8">MIC=1</tspan> <tspan x="1927.2" letter-spacing="0">mg/L</tspan></text>
<rect x="1404.7" y="1585.05" width="69.8" height="9.8" fill="#0000FF"/>
<path transform="translate(1439.6 1589.95)" fill-rule="evenodd" d="M-2.6 -21.1H2.6L20.8 17.2L19.6 19H-19.6L-20.8 17.2ZM0 -2.9L6.3 10H-6.3Z" fill="#0000FF"/>
<text y="1607.15"><tspan x="1512">35</tspan> <tspan x="1578.1">mL/kg/h</tspan> <tspan x="1767.8" letter-spacing="-0.8">MIC=1</tspan> <tspan x="1927.2" letter-spacing="0">mg/L</tspan></text>
<rect x="1404.7" y="1655.75" width="69.8" height="9.8" fill="#FF8000"/>
<path transform="translate(1439.6 1660.65)" d="M0 -22L4.94 -6.8L20.92 -6.8L7.99 2.6L12.93 17.8L0 8.4L-12.93 17.8L-7.99 2.6L-20.92 -6.8L-4.94 -6.8Z" fill="#FF8000"/>
<text y="1677.85"><tspan x="1512">25</tspan> <tspan x="1578.1">mL/kg/h</tspan> <tspan x="1767.8" letter-spacing="-0.8">MIC=2</tspan> <tspan x="1927.2" letter-spacing="0">mg/L</tspan></text>
<rect x="1404.7" y="1726.45" width="69.8" height="9.8" fill="#00C000"/>
<path transform="translate(1439.6 1731.35)" d="M-5 -22H5V-5H22V5H5V22H-5V5H-22V-5H-5Z" fill="#00C000"/>
<text y="1748.55"><tspan x="1512">30</tspan> <tspan x="1578.1">mL/kg/h</tspan> <tspan x="1767.8" letter-spacing="-0.8">MIC=2</tspan> <tspan x="1927.2" letter-spacing="0">mg/L</tspan></text>
<rect x="1404.7" y="1797.15" width="69.8" height="9.8" fill="#0000FF"/>
<path transform="translate(1439.6 1802.05)" d="M0 -18.3L18.3 0L0 18.3L-18.3 0Z" fill="#0000FF"/>
<text y="1819.25"><tspan x="1512">35</tspan> <tspan x="1578.1">mL/kg/h</tspan> <tspan x="1767.8" letter-spacing="-0.8">MIC=2</tspan> <tspan x="1927.2" letter-spacing="0">mg/L</tspan></text>
</g>
</g>
</g>
<g id="panel-c">
<text font-size="78" x="122" y="2180.4">c</text>
<g transform="scale(1 0.9375)">
<g fill="#333333">
<rect x="287.05" y="2377.25" width="9.3" height="727.3"/>
<rect x="264" y="3095.3" width="27.7" height="9.3"/>
<rect x="264" y="2951.3" width="27.7" height="9.3"/>
<rect x="264" y="2807.3" width="27.7" height="9.3"/>
<rect x="264" y="2663.3" width="27.7" height="9.3"/>
<rect x="264" y="2519.3" width="27.7" height="9.3"/>
<rect x="264" y="2447.3" width="27.7" height="9.3"/>
<rect x="264" y="2375.3" width="27.7" height="9.3"/>
<rect x="264" y="3095.3" width="1109.65" height="9.3"/>
<rect x="287.05" y="3099.95" width="9.3" height="27.6"/>
<rect x="440.95" y="3099.95" width="9.3" height="27.6"/>
<rect x="594.85" y="3099.95" width="9.3" height="27.6"/>
<rect x="748.75" y="3099.95" width="9.3" height="27.6"/>
<rect x="902.65" y="3099.95" width="9.3" height="27.6"/>
<rect x="1056.55" y="3099.95" width="9.3" height="27.6"/>
<rect x="1210.45" y="3099.95" width="9.3" height="27.6"/>
<rect x="1364.35" y="3099.95" width="9.3" height="27.6"/>
</g>
<g font-size="48.6" text-anchor="end" letter-spacing="1">
<text x="258.5" y="3116.55">0</text>
<text x="258.5" y="2972.55">20</text>
<text x="258.5" y="2828.55">40</text>
<text x="258.5" y="2684.55">60</text>
<text x="258.5" y="2540.55">80</text>
<text x="266.1" y="2468.55">90</text>
<text x="258.5" y="2396.55">100</text>
</g>
<text font-size="59.5" letter-spacing="-1.5" text-anchor="middle" transform="translate(168 2740.59) rotate(-90)">PTA(%)</text>
<g font-size="48.6" text-anchor="end" letter-spacing="1">
<text transform="translate(300.2 3176.95) rotate(-29.3)">4 mg/kg q48h</text>
<text transform="translate(454.1 3176.95) rotate(-29.3)">6 mg/kg q48h</text>
<text transform="translate(608 3176.95) rotate(-29.3)">4 mg/kg q24h</text>
<text transform="translate(761.9 3176.95) rotate(-29.3)">10 mg/kg q48h</text>
<text transform="translate(915.8 3176.95) rotate(-29.3)">6 mg/kg q24h</text>
<text transform="translate(1069.7 3176.95) rotate(-29.3)">8 mg/kg q24h</text>
<text transform="translate(1223.6 3176.95) rotate(-29.3)">10 mg/kg q24h</text>
<text transform="translate(1377.5 3176.95) rotate(-29.3)">12 mg/kg q24h</text>
</g>
<clipPath id="clip2"><rect x="271.7" y="2379.35" width="1117.3" height="720.6"/></clipPath>
<polyline clip-path="url(#clip2)" points="291.7,3099.95 445.6,3099.95 599.5,3097.79 753.4,3089.15 907.3,3074.75 1061.2,2985.83 1215.1,2805.83 1369,2603.15" fill="none" stroke="#0000FF" stroke-width="9.6" stroke-linejoin="round"/>
<path transform="translate(291.7 3099.95)" d="M0 -18.6L18.6 0L0 18.6L-18.6 0Z" fill="#0000FF"/>
<path transform="translate(445.6 3099.95)" d="M0 -18.6L18.6 0L0 18.6L-18.6 0Z" fill="#0000FF"/>
<path transform="translate(599.5 3097.79)" d="M0 -18.6L18.6 0L0 18.6L-18.6 0Z" fill="#0000FF"/>
<path transform="translate(753.4 3089.15)" d="M0 -18.6L18.6 0L0 18.6L-18.6 0Z" fill="#0000FF"/>
<path transform="translate(907.3 3074.75)" d="M0 -18.6L18.6 0L0 18.6L-18.6 0Z" fill="#0000FF"/>
<path transform="translate(1061.2 2985.83)" d="M0 -18.6L18.6 0L0 18.6L-18.6 0Z" fill="#0000FF"/>
<path transform="translate(1215.1 2805.83)" d="M0 -18.6L18.6 0L0 18.6L-18.6 0Z" fill="#0000FF"/>
<path transform="translate(1369 2603.15)" d="M0 -18.6L18.6 0L0 18.6L-18.6 0Z" fill="#0000FF"/>
<polyline clip-path="url(#clip2)" points="291.7,3098.51 445.6,3099.95 599.5,3096.35 753.4,3085.55 907.3,3062.51 1061.2,2930.75 1215.1,2700.35 1369,2508.47" fill="none" stroke="#00C000" stroke-width="9.6" stroke-linejoin="round"/>
<path transform="translate(291.7 3098.51)" d="M-5 -22H5V-5H22V5H5V22H-5V5H-22V-5H-5Z" fill="#00C000"/>
<path transform="translate(445.6 3099.95)" d="M-5 -22H5V-5H22V5H5V22H-5V5H-22V-5H-5Z" fill="#00C000"/>
<path transform="translate(599.5 3096.35)" d="M-5 -22H5V-5H22V5H5V22H-5V5H-22V-5H-5Z" fill="#00C000"/>
<path transform="translate(753.4 3085.55)" d="M-5 -22H5V-5H22V5H5V22H-5V5H-22V-5H-5Z" fill="#00C000"/>
<path transform="translate(907.3 3062.51)" d="M-5 -22H5V-5H22V5H5V22H-5V5H-22V-5H-5Z" fill="#00C000"/>
<path transform="translate(1061.2 2930.75)" d="M-5 -22H5V-5H22V5H5V22H-5V5H-22V-5H-5Z" fill="#00C000"/>
<path transform="translate(1215.1 2700.35)" d="M-5 -22H5V-5H22V5H5V22H-5V5H-22V-5H-5Z" fill="#00C000"/>
<path transform="translate(1369 2508.47)" d="M-5 -22H5V-5H22V5H5V22H-5V5H-22V-5H-5Z" fill="#00C000"/>
<polyline clip-path="url(#clip2)" points="291.7,3099.95 445.6,3097.79 599.5,3092.75 753.4,3081.95 907.3,3036.95 1061.2,2835.35 1215.1,2577.95 1369,2435.39" fill="none" stroke="#FF8000" stroke-width="9.6" stroke-linejoin="round"/>
<path transform="translate(291.7 3099.95)" d="M0 -22L4.94 -6.8L20.92 -6.8L7.99 2.6L12.93 17.8L0 8.4L-12.93 17.8L-7.99 2.6L-20.92 -6.8L-4.94 -6.8Z" fill="#FF8000"/>
<path transform="translate(445.6 3097.79)" d="M0 -22L4.94 -6.8L20.92 -6.8L7.99 2.6L12.93 17.8L0 8.4L-12.93 17.8L-7.99 2.6L-20.92 -6.8L-4.94 -6.8Z" fill="#FF8000"/>
<path transform="translate(599.5 3092.75)" d="M0 -22L4.94 -6.8L20.92 -6.8L7.99 2.6L12.93 17.8L0 8.4L-12.93 17.8L-7.99 2.6L-20.92 -6.8L-4.94 -6.8Z" fill="#FF8000"/>
<path transform="translate(753.4 3081.95)" d="M0 -22L4.94 -6.8L20.92 -6.8L7.99 2.6L12.93 17.8L0 8.4L-12.93 17.8L-7.99 2.6L-20.92 -6.8L-4.94 -6.8Z" fill="#FF8000"/>
<path transform="translate(907.3 3036.95)" d="M0 -22L4.94 -6.8L20.92 -6.8L7.99 2.6L12.93 17.8L0 8.4L-12.93 17.8L-7.99 2.6L-20.92 -6.8L-4.94 -6.8Z" fill="#FF8000"/>
<path transform="translate(1061.2 2835.35)" d="M0 -22L4.94 -6.8L20.92 -6.8L7.99 2.6L12.93 17.8L0 8.4L-12.93 17.8L-7.99 2.6L-20.92 -6.8L-4.94 -6.8Z" fill="#FF8000"/>
<path transform="translate(1215.1 2577.95)" d="M0 -22L4.94 -6.8L20.92 -6.8L7.99 2.6L12.93 17.8L0 8.4L-12.93 17.8L-7.99 2.6L-20.92 -6.8L-4.94 -6.8Z" fill="#FF8000"/>
<path transform="translate(1369 2435.39)" d="M0 -22L4.94 -6.8L20.92 -6.8L7.99 2.6L12.93 17.8L0 8.4L-12.93 17.8L-7.99 2.6L-20.92 -6.8L-4.94 -6.8Z" fill="#FF8000"/>
<polyline clip-path="url(#clip2)" points="291.7,3099.23 445.6,3074.75 599.5,2981.51 753.4,2799.35 907.3,2597.39 1061.2,2405.51 1215.1,2380.67 1369,2379.95" fill="none" stroke="#0000FF" stroke-width="9.6" stroke-linejoin="round"/>
<path transform="translate(291.7 3099.23)" fill-rule="evenodd" d="M-2.6 -21.1H2.6L20.8 17.2L19.6 19H-19.6L-20.8 17.2ZM0 -2.9L6.3 10H-6.3Z" fill="#0000FF"/>
<path transform="translate(445.6 3074.75)" fill-rule="evenodd" d="M-2.6 -21.1H2.6L20.8 17.2L19.6 19H-19.6L-20.8 17.2ZM0 -2.9L6.3 10H-6.3Z" fill="#0000FF"/>
<path transform="translate(599.5 2981.51)" fill-rule="evenodd" d="M-2.6 -21.1H2.6L20.8 17.2L19.6 19H-19.6L-20.8 17.2ZM0 -2.9L6.3 10H-6.3Z" fill="#0000FF"/>
<path transform="translate(753.4 2799.35)" fill-rule="evenodd" d="M-2.6 -21.1H2.6L20.8 17.2L19.6 19H-19.6L-20.8 17.2ZM0 -2.9L6.3 10H-6.3Z" fill="#0000FF"/>
<path transform="translate(907.3 2597.39)" fill-rule="evenodd" d="M-2.6 -21.1H2.6L20.8 17.2L19.6 19H-19.6L-20.8 17.2ZM0 -2.9L6.3 10H-6.3Z" fill="#0000FF"/>
<path transform="translate(1061.2 2405.51)" fill-rule="evenodd" d="M-2.6 -21.1H2.6L20.8 17.2L19.6 19H-19.6L-20.8 17.2ZM0 -2.9L6.3 10H-6.3Z" fill="#0000FF"/>
<path transform="translate(1215.1 2380.67)" fill-rule="evenodd" d="M-2.6 -21.1H2.6L20.8 17.2L19.6 19H-19.6L-20.8 17.2ZM0 -2.9L6.3 10H-6.3Z" fill="#0000FF"/>
<path transform="translate(1369 2379.95)" fill-rule="evenodd" d="M-2.6 -21.1H2.6L20.8 17.2L19.6 19H-19.6L-20.8 17.2ZM0 -2.9L6.3 10H-6.3Z" fill="#0000FF"/>
<polyline clip-path="url(#clip2)" points="291.7,3098.15 445.6,3063.95 599.5,2923.55 753.4,2701.79 907.3,2507.39 1061.2,2387.87 1215.1,2379.95 1369,2379.95" fill="none" stroke="#00C000" stroke-width="9.6" stroke-linejoin="round"/>
<rect x="277.6" y="3084.05" width="28.2" height="28.2" fill="none" stroke="#00C000" stroke-width="9.8"/>
<rect x="431.5" y="3049.85" width="28.2" height="28.2" fill="none" stroke="#00C000" stroke-width="9.8"/>
<rect x="585.4" y="2909.45" width="28.2" height="28.2" fill="none" stroke="#00C000" stroke-width="9.8"/>
<rect x="739.3" y="2687.69" width="28.2" height="28.2" fill="none" stroke="#00C000" stroke-width="9.8"/>
<rect x="893.2" y="2493.29" width="28.2" height="28.2" fill="none" stroke="#00C000" stroke-width="9.8"/>
<rect x="1047.1" y="2373.77" width="28.2" height="28.2" fill="none" stroke="#00C000" stroke-width="9.8"/>
<rect x="1201" y="2365.85" width="28.2" height="28.2" fill="none" stroke="#00C000" stroke-width="9.8"/>
<rect x="1354.9" y="2365.85" width="28.2" height="28.2" fill="none" stroke="#00C000" stroke-width="9.8"/>
<polyline clip-path="url(#clip2)" points="291.7,3095.63 445.6,3038.75 599.5,2831.03 753.4,2577.95 907.3,2433.95 1061.2,2383.55 1215.1,2379.95 1369,2379.95" fill="none" stroke="#FF8000" stroke-width="9.6" stroke-linejoin="round"/>
<circle cx="291.7" cy="3095.63" r="13.9" fill="#fff" stroke="#FF8000" stroke-width="9.3"/>
<circle cx="445.6" cy="3038.75" r="13.9" fill="#fff" stroke="#FF8000" stroke-width="9.3"/>
<circle cx="599.5" cy="2831.03" r="13.9" fill="#fff" stroke="#FF8000" stroke-width="9.3"/>
<circle cx="753.4" cy="2577.95" r="13.9" fill="#fff" stroke="#FF8000" stroke-width="9.3"/>
<circle cx="907.3" cy="2433.95" r="13.9" fill="#fff" stroke="#FF8000" stroke-width="9.3"/>
<circle cx="1061.2" cy="2383.55" r="13.9" fill="#fff" stroke="#FF8000" stroke-width="9.3"/>
<circle cx="1215.1" cy="2379.95" r="13.9" fill="#fff" stroke="#FF8000" stroke-width="9.3"/>
<circle cx="1369" cy="2379.95" r="13.9" fill="#fff" stroke="#FF8000" stroke-width="9.3"/>
<polyline clip-path="url(#clip2)" points="291.7,3006.71 445.6,2623.67 599.5,2399.75 753.4,2379.95 907.3,2379.95 1061.2,2379.95 1215.1,2379.95 1369,2379.95" fill="none" stroke="#0000FF" stroke-width="9.6" stroke-linejoin="round"/>
<path transform="translate(291.7 3006.71)" d="M0 -18.2L18.6 18.6H-18.6Z" fill="#0000FF"/>
<path transform="translate(445.6 2623.67)" d="M0 -18.2L18.6 18.6H-18.6Z" fill="#0000FF"/>
<path transform="translate(599.5 2399.75)" d="M0 -18.2L18.6 18.6H-18.6Z" fill="#0000FF"/>
<path transform="translate(753.4 2379.95)" d="M0 -18.2L18.6 18.6H-18.6Z" fill="#0000FF"/>
<path transform="translate(907.3 2379.95)" d="M0 -18.2L18.6 18.6H-18.6Z" fill="#0000FF"/>
<path transform="translate(1061.2 2379.95)" d="M0 -18.2L18.6 18.6H-18.6Z" fill="#0000FF"/>
<path transform="translate(1215.1 2379.95)" d="M0 -18.2L18.6 18.6H-18.6Z" fill="#0000FF"/>
<path transform="translate(1369 2379.95)" d="M0 -18.2L18.6 18.6H-18.6Z" fill="#0000FF"/>
<polyline clip-path="url(#clip2)" points="291.7,2919.95 445.6,2513.15 599.5,2390.75 753.4,2379.95 907.3,2379.95 1061.2,2379.95 1215.1,2379.95 1369,2379.95" fill="none" stroke="#00C000" stroke-width="9.6" stroke-linejoin="round"/>
<rect x="276.7" y="2904.95" width="30" height="30" fill="#00C000"/>
<rect x="430.6" y="2498.15" width="30" height="30" fill="#00C000"/>
<rect x="584.5" y="2375.75" width="30" height="30" fill="#00C000"/>
<rect x="738.4" y="2364.95" width="30" height="30" fill="#00C000"/>
<rect x="892.3" y="2364.95" width="30" height="30" fill="#00C000"/>
<rect x="1046.2" y="2364.95" width="30" height="30" fill="#00C000"/>
<rect x="1200.1" y="2364.95" width="30" height="30" fill="#00C000"/>
<rect x="1354" y="2364.95" width="30" height="30" fill="#00C000"/>
<polyline clip-path="url(#clip2)" points="291.7,2834.27 445.6,2438.63 599.5,2383.55 753.4,2379.95 907.3,2379.95 1061.2,2379.95 1215.1,2379.95 1369,2379.95" fill="none" stroke="#FF8000" stroke-width="9.6" stroke-linejoin="round"/>
<circle cx="291.7" cy="2834.27" r="14.6" fill="#FF8000"/>
<circle cx="445.6" cy="2438.63" r="14.6" fill="#FF8000"/>
<circle cx="599.5" cy="2383.55" r="14.6" fill="#FF8000"/>
<circle cx="753.4" cy="2379.95" r="14.6" fill="#FF8000"/>
<circle cx="907.3" cy="2379.95" r="14.6" fill="#FF8000"/>
<circle cx="1061.2" cy="2379.95" r="14.6" fill="#FF8000"/>
<circle cx="1215.1" cy="2379.95" r="14.6" fill="#FF8000"/>
<circle cx="1369" cy="2379.95" r="14.6" fill="#FF8000"/>
<clipPath id="rclip2"><rect x="291.3" y="2441.95" width="1071.7" height="20"/></clipPath>
<g fill="#FF0000" clip-path="url(#rclip2)">
<rect x="290.7" y="2445.35" width="27.72" height="13.2"/>
<circle cx="318.42" cy="2451.95" r="6.6"/>
<rect x="351.3" y="2445.35" width="39" height="13.2" rx="6.6"/>
<rect x="416.58" y="2445.35" width="39" height="13.2" rx="6.6"/>
<rect x="481.86" y="2445.35" width="39" height="13.2" rx="6.6"/>
<rect x="547.14" y="2445.35" width="39" height="13.2" rx="6.6"/>
<rect x="612.42" y="2445.35" width="39" height="13.2" rx="6.6"/>
<rect x="677.7" y="2445.35" width="39" height="13.2" rx="6.6"/>
<rect x="742.98" y="2445.35" width="39" height="13.2" rx="6.6"/>
<rect x="808.26" y="2445.35" width="39" height="13.2" rx="6.6"/>
<rect x="873.54" y="2445.35" width="39" height="13.2" rx="6.6"/>
<rect x="938.82" y="2445.35" width="39" height="13.2" rx="6.6"/>
<rect x="1004.1" y="2445.35" width="39" height="13.2" rx="6.6"/>
<rect x="1069.38" y="2445.35" width="39" height="13.2" rx="6.6"/>
<rect x="1134.66" y="2445.35" width="39" height="13.2" rx="6.6"/>
<rect x="1199.94" y="2445.35" width="39" height="13.2" rx="6.6"/>
<rect x="1265.22" y="2445.35" width="39" height="13.2" rx="6.6"/>
<rect x="1337.1" y="2445.35" width="39" height="13.2"/>
<circle cx="1337.1" cy="2451.95" r="6.6"/>
</g>
<g font-size="48.6">
<rect x="1406.9" y="2446.73" width="69.8" height="9.8" fill="#FF8000"/>
<circle cx="1441.8" cy="2451.63" r="14.6" fill="#FF8000"/>
<text y="2468.83"><tspan x="1514.9">25</tspan> <tspan x="1581">mL/kg/h</tspan> <tspan x="1770.7" letter-spacing="-0.8">MIC=0.25</tspan> <tspan x="1994.3" letter-spacing="0">mg/L</tspan></text>
<rect x="1406.9" y="2521.96" width="69.8" height="9.8" fill="#00C000"/>
<rect x="1426.8" y="2511.86" width="30" height="30" fill="#00C000"/>
<text y="2544.06"><tspan x="1514.9">30</tspan> <tspan x="1581">mL/kg/h</tspan> <tspan x="1770.7" letter-spacing="-0.8">MIC=0.25</tspan> <tspan x="1994.3" letter-spacing="0">mg/L</tspan></text>
<rect x="1406.9" y="2597.19" width="69.8" height="9.8" fill="#0000FF"/>
<path transform="translate(1441.8 2602.09)" d="M0 -18.2L18.6 18.6H-18.6Z" fill="#0000FF"/>
<text y="2619.29"><tspan x="1514.9">35</tspan> <tspan x="1581">mL/kg/h</tspan> <tspan x="1770.7" letter-spacing="-0.8">MIC=0.25</tspan> <tspan x="1994.3" letter-spacing="0">mg/L</tspan></text>
<rect x="1406.9" y="2672.42" width="69.8" height="9.8" fill="#FF8000"/>
<circle cx="1441.8" cy="2677.32" r="13.9" fill="#fff" stroke="#FF8000" stroke-width="9.3"/>
<text y="2694.52"><tspan x="1514.9">25</tspan> <tspan x="1581">mL/kg/h</tspan> <tspan x="1770.7" letter-spacing="-0.8">MIC=0.5</tspan> <tspan x="1969.2" letter-spacing="0">mg/L</tspan></text>
<rect x="1406.9" y="2747.65" width="69.8" height="9.8" fill="#00C000"/>
<rect x="1427.7" y="2738.45" width="28.2" height="28.2" fill="none" stroke="#00C000" stroke-width="9.8"/>
<text y="2769.75"><tspan x="1514.9">30</tspan> <tspan x="1581">mL/kg/h</tspan> <tspan x="1770.7" letter-spacing="-0.8">MIC=0.5</tspan> <tspan x="1969.2" letter-spacing="0">mg/L</tspan></text>
<rect x="1406.9" y="2822.89" width="69.8" height="9.8" fill="#0000FF"/>
<path transform="translate(1441.8 2827.79)" fill-rule="evenodd" d="M-2.6 -21.1H2.6L20.8 17.2L19.6 19H-19.6L-20.8 17.2ZM0 -2.9L6.3 10H-6.3Z" fill="#0000FF"/>
<text y="2844.99"><tspan x="1514.9">35</tspan> <tspan x="1581">mL/kg/h</tspan> <tspan x="1770.7" letter-spacing="-0.8">MIC=0.5</tspan> <tspan x="1969.2" letter-spacing="0">mg/L</tspan></text>
<rect x="1406.9" y="2898.12" width="69.8" height="9.8" fill="#FF8000"/>
<path transform="translate(1441.8 2903.02)" d="M0 -22L4.94 -6.8L20.92 -6.8L7.99 2.6L12.93 17.8L0 8.4L-12.93 17.8L-7.99 2.6L-20.92 -6.8L-4.94 -6.8Z" fill="#FF8000"/>
<text y="2920.22"><tspan x="1514.9">25</tspan> <tspan x="1581">mL/kg/h</tspan> <tspan x="1770.7" letter-spacing="-0.8">MIC=1</tspan> <tspan x="1930.1" letter-spacing="0">mg/L</tspan></text>
<rect x="1406.9" y="2973.35" width="69.8" height="9.8" fill="#00C000"/>
<path transform="translate(1441.8 2978.25)" d="M-5 -22H5V-5H22V5H5V22H-5V5H-22V-5H-5Z" fill="#00C000"/>
<text y="2995.45"><tspan x="1514.9">30</tspan> <tspan x="1581">mL/kg/h</tspan> <tspan x="1770.7" letter-spacing="-0.8">MIC=1</tspan> <tspan x="1930.1" letter-spacing="0">mg/L</tspan></text>
<rect x="1406.9" y="3048.58" width="69.8" height="9.8" fill="#0000FF"/>
<path transform="translate(1441.8 3053.48)" d="M0 -18.6L18.6 0L0 18.6L-18.6 0Z" fill="#0000FF"/>
<text y="3070.68"><tspan x="1514.9">35</tspan> <tspan x="1581">mL/kg/h</tspan> <tspan x="1770.7" letter-spacing="-0.8">MIC=1</tspan> <tspan x="1930.1" letter-spacing="0">mg/L</tspan></text>
</g>
</g>
</g>
</svg>
</body>
</html>
